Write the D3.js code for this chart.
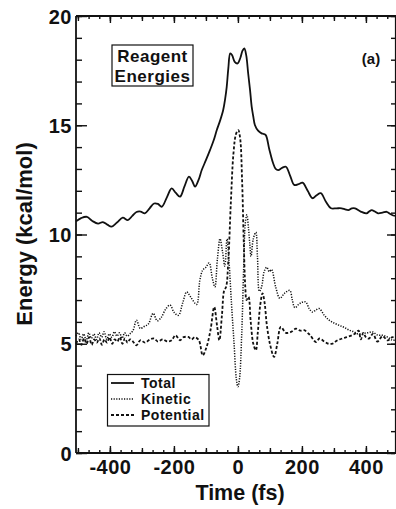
<!DOCTYPE html>
<html><head><meta charset="utf-8">
<script src="https://cdn.jsdelivr.net/npm/d3@7"></script>
<style>
body{margin:0;background:#fff;}
svg{display:block;font-family:"Liberation Sans",Arial,Helvetica,sans-serif;font-weight:bold;}
</style></head><body>
<svg id="chart" width="396" height="509"></svg>
<script>
// Total energy (t in fs, E in kcal/mol)
const totalT = [-506,-490,-472,-455,-437,-422,-408,-395,-378,-360,-344,-330,-317,-304,-291,-276,-262,-250,-238,-222,-207,-194,-181,-167,-153,-143,-134,-123,-113,-100,-87,-76,-66,-56,-46,-40,-35,-30,-24,-18,-10,-1,8,14,20,26,32,38,43,48,53,63,74,80,87,98,110,118,126,138,150,163,176,189,202,218,233,246,259,275,291,308,324,335,345,356,366,384,402,410,418,428,438,452,465,475,485,494];
const totalE = [10.6,10.75,10.81,10.62,10.5,10.57,10.45,10.36,10.55,10.77,10.66,10.85,11.03,11.05,10.97,11.2,11.42,11.4,11.27,11.7,12.11,11.9,11.73,12.2,12.65,12.45,12.19,12.5,12.95,13.4,13.87,14.3,14.78,15.2,15.7,16.2,16.76,17.6,18.29,18.2,17.9,17.83,18.1,18.4,18.52,18.2,17.38,16.6,15.85,15.4,15.01,14.75,14.63,14.6,14.55,13.9,13.26,13.0,12.95,13.05,13.1,12.7,12.27,12.3,12.37,12.0,11.66,11.8,11.89,11.5,11.2,11.2,11.2,11.15,11.12,11.2,11.2,11.05,10.97,11.05,11.12,11.05,10.97,11.0,11.04,10.95,10.87,10.85];

// Kinetic energy
const kineticT = [-506,-498,-490,-482,-474,-466,-458,-450,-442,-434,-426,-418,-410,-402,-394,-386,-378,-370,-362,-354,-346,-338,-328,-317,-305,-292,-280,-265,-252,-240,-225,-212,-200,-186,-172,-160,-146,-129,-119,-110,-100,-90,-80,-72,-64,-56,-48,-41,-34,-28,-20,-12,-5,0,5,12,18,23,28,33,37,41,48,56,61,67,74,82,90,98,105,118,131,145,162,170,178,190,200,212,223,233,244,254,270,285,300,317,332,348,362,375,390,405,421,436,452,468,483,494];
const kineticE = [5.35,5.5,5.2,5.45,5.15,5.5,5.25,5.45,5.2,5.5,5.3,5.55,5.2,5.45,5.3,5.55,5.35,5.5,5.25,5.5,5.35,5.45,5.6,6.08,5.7,5.8,5.9,6.39,6.05,6.2,6.6,6.77,6.45,6.3,6.9,7.37,7.1,6.8,7.9,8.37,8.5,8.7,8.0,7.6,8.9,9.8,9.2,8.55,9.8,8.8,6.8,5.0,3.4,3.03,3.4,5.5,8.5,10.5,10.9,10.3,9.6,9.0,9.8,10.1,9.0,7.4,7.6,8.3,8.5,8.3,8.4,7.6,7.08,7.3,7.44,7.0,6.65,6.8,6.9,6.91,6.6,6.45,6.55,6.61,6.3,6.08,5.95,5.84,5.75,5.62,5.55,5.45,5.47,5.5,5.54,5.4,5.39,5.3,5.16,5.2];

// Potential energy
const potentialT = [-506,-497,-489,-481,-473,-465,-457,-449,-441,-433,-425,-417,-409,-401,-393,-385,-377,-369,-361,-353,-345,-337,-328,-317,-305,-290,-275,-262,-250,-235,-220,-207,-195,-181,-170,-155,-145,-135,-122,-110,-98,-86,-74,-65,-58,-50,-43,-37,-30,-22,-14,-6,1,7,13,18,23,27,33,40,48,56,62,70,77,84,90,100,113,123,134,150,166,181,195,207,225,244,255,270,283,296,310,326,340,357,367,377,384,392,400,410,422,436,452,468,483,494];
const potentialE = [5.0,5.2,4.95,5.25,5.0,5.3,4.95,5.2,5.05,5.25,4.95,5.2,5.05,5.3,5.0,5.2,5.1,5.3,5.0,5.25,5.05,5.2,5.1,4.93,5.16,5.05,5.2,5.24,5.1,5.2,5.1,5.16,5.39,5.16,5.3,5.31,5.2,5.3,5.16,4.47,4.85,5.6,6.68,5.8,5.16,6.3,7.44,7.6,8.8,11.5,13.7,14.6,14.78,14.4,12.5,9.8,7.6,7.0,7.15,6.0,5.0,4.7,5.5,6.8,7.31,6.8,5.9,5.0,4.4,5.0,5.77,5.5,5.54,5.69,5.6,5.62,5.4,5.08,5.24,5.1,5.0,5.01,5.15,5.24,5.3,5.39,5.47,5.6,5.2,5.5,5.3,5.24,5.45,5.1,5.35,5.15,5.3,5.2];

const xTickLabels = [-400,-200,0,200,400];
const yTickLabels = [0,5,10,15,20];
const legendLabels = ["Total","Kinetic","Potential"];

const svg = d3.select("#chart");
const x = d3.scaleLinear().domain([-506,494]).range([76,396]);
const y = d3.scaleLinear().domain([0,20]).range([453,16]);

const axisW = 1.8;
const fmt = d => String(d); // plain hyphen-minus as in the original
const xMinor = d3.range(-500,501,100/3).map(v=>Math.round(v*1000)/1000).filter(v=>x(v)>=76&&x(v)<=396);
const x100 = d3.range(-500,501,100);
const yMinor = d3.range(0,21,1);

function styleAxis(g){ g.select(".domain").remove(); g.selectAll("line").attr("stroke","#111").attr("stroke-width",1.4); }
function styleText(g){ g.selectAll("text").attr("font-size",20).attr("font-weight","bold").attr("fill","#111")
  .attr("font-family","Liberation Sans, Arial, sans-serif").attr("letter-spacing","0.5"); }

// bottom axis
svg.append("g").attr("transform","translate(0,453)").call(d3.axisBottom(x).tickValues(xMinor).tickSize(-3).tickFormat("")).call(styleAxis);
svg.append("g").attr("transform","translate(0,453)").call(d3.axisBottom(x).tickValues(x100).tickSize(-5).tickFormat("")).call(styleAxis);
const xb = svg.append("g").attr("transform","translate(0,453)").call(d3.axisBottom(x).tickValues(xTickLabels).tickSize(-7).tickPadding(7).tickFormat(fmt)).call(styleAxis);
xb.call(styleText);
xb.selectAll("text").attr("dy","0.72em");
// top axis
svg.append("g").attr("transform","translate(0,16)").call(d3.axisTop(x).tickValues(xMinor).tickSize(-3).tickFormat("")).call(styleAxis);
svg.append("g").attr("transform","translate(0,16)").call(d3.axisTop(x).tickValues(x100).tickSize(-5).tickFormat("")).call(styleAxis);
svg.append("g").attr("transform","translate(0,16)").call(d3.axisTop(x).tickValues(xTickLabels).tickSize(-7).tickFormat("")).call(styleAxis);
// left axis
svg.append("g").attr("transform","translate(76,0)").call(d3.axisLeft(y).tickValues(yMinor).tickSize(-6).tickFormat("")).call(styleAxis);
const yl = svg.append("g").attr("transform","translate(76,0)").call(d3.axisLeft(y).tickValues(yTickLabels).tickSize(-11).tickFormat(fmt)).call(styleAxis);
yl.call(styleText);
yl.selectAll("text").attr("x",-4).attr("dy","0.36em");
// right axis
svg.append("g").attr("transform","translate(395,0)").call(d3.axisRight(y).tickValues(yMinor).tickSize(-4).tickFormat("")).call(styleAxis);
svg.append("g").attr("transform","translate(395,0)").call(d3.axisRight(y).tickValues(yTickLabels).tickSize(-8).tickFormat("")).call(styleAxis);

// frame lines
svg.append("line").attr("x1",76).attr("x2",76).attr("y1",16).attr("y2",453).attr("stroke","#111").attr("stroke-width",axisW);
svg.append("line").attr("x1",76).attr("x2",396).attr("y1",453).attr("y2",453).attr("stroke","#111").attr("stroke-width",axisW);
svg.append("line").attr("x1",76).attr("x2",396).attr("y1",16).attr("y2",16).attr("stroke","#111").attr("stroke-width",axisW);
svg.append("line").attr("x1",395.5).attr("x2",395.5).attr("y1",16).attr("y2",453).attr("stroke","#111").attr("stroke-width",1.2);

// curves
const line = d3.line().x(d=>x(d[0])).y(d=>y(d[1])).curve(d3.curveCatmullRom.alpha(0.5));
const styles = [
  {t:totalT,e:totalE,dash:null,w:1.8},
  {t:kineticT,e:kineticE,dash:"1.2,1.4",w:1.5},
  {t:potentialT,e:potentialE,dash:"3,2",w:1.8}
];
styles.forEach(s=>{
  svg.append("path").datum(d3.zip(s.t,s.e)).attr("d",line).attr("fill","none")
    .attr("stroke","#111").attr("stroke-width",s.w).attr("stroke-dasharray",s.dash);
});

// axis titles
svg.append("text").attr("transform","translate(32,234) rotate(-90)").attr("text-anchor","middle")
  .attr("font-size",22).attr("fill","#111").text("Energy (kcal/mol)");
svg.append("text").attr("x",240).attr("y",500).attr("text-anchor","middle")
  .attr("font-size",21.5).attr("fill","#111").text("Time (fs)");

// Reagent Energies box
svg.append("rect").attr("x",112).attr("y",45).attr("width",81).attr("height",41).attr("fill","#fff").attr("stroke","#111").attr("stroke-width",1.2);
svg.append("text").attr("x",152.5).attr("y",62).attr("text-anchor","middle").attr("font-size",17).attr("letter-spacing","0.5").attr("fill","#111").text("Reagent");
svg.append("text").attr("x",152.5).attr("y",81.5).attr("text-anchor","middle").attr("font-size",17).attr("letter-spacing","0.5").attr("fill","#111").text("Energies");

svg.append("text").attr("x",371).attr("y",64).attr("text-anchor","middle").attr("font-size",15).attr("fill","#111").text("(a)");

// legend
const lg = svg.append("g");
lg.append("rect").attr("x",107.5).attr("y",374.5).attr("width",101.5).attr("height",51.5).attr("fill","#fff").attr("stroke","#111").attr("stroke-width",1.2);
legendLabels.forEach((lab,i)=>{
  const yy = 383 + i*16;
  lg.append("line").attr("x1",111).attr("x2",134).attr("y1",yy).attr("y2",yy)
    .attr("stroke","#111").attr("stroke-width",styles[i].w).attr("stroke-dasharray",styles[i].dash);
  lg.append("text").attr("x",141).attr("y",yy+5).attr("font-size",14).attr("letter-spacing","0.5").attr("fill","#111").text(lab);
});
</script>
</body></html>
